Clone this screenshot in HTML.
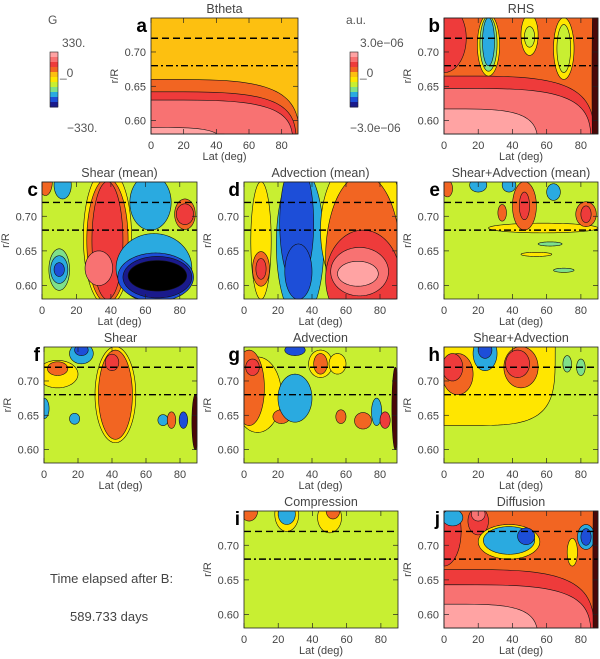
<!DOCTYPE html>
<html><head><meta charset="utf-8">
<style>
html,body{margin:0;padding:0;background:#fff;overflow:hidden;width:600px;height:659px;}
svg{display:block;}
svg text{font-family:"Liberation Sans","DejaVu Sans",sans-serif;}
</style></head>
<body>
<svg id="fig" width="600" height="659" viewBox="0 0 600 659" xmlns="http://www.w3.org/2000/svg">
  <g>
    <text x="48" y="24" font-size="12" fill="#555">G</text>
    <text x="62" y="47" font-size="12" fill="#555">330.</text>
    <text x="60" y="77" font-size="12" fill="#555">_0</text>
    <text x="67" y="132" font-size="12" fill="#555">−330.</text>
  </g>
  <g>
    <text x="346" y="24" font-size="12" fill="#555">a.u.</text>
    <text x="360" y="47" font-size="12" fill="#555">3.0e−06</text>
    <text x="360" y="77" font-size="12" fill="#555">_0</text>
    <text x="350" y="132" font-size="12" fill="#555">−3.0e−06</text>
  </g>
  <text x="50" y="583" font-size="13" fill="#444">Time elapsed after B:</text>
  <text x="70" y="621" font-size="13" fill="#444">589.733 days</text>
</svg>
<script>
const colorMap = {P5:'#ffa3a3',P4:'#f87272',P3:'#ee3b3b',P2:'#f26522',P1:'#fdc010',Y:'#ffe600',Z:'#c8ef32',G:'#7ee08a',C:'#2aaae0',B:'#1d4ed8',N:'#1a1a8c',K:'#000000',D:'#4a0808'};
const colorbarLevels = ['P5','P4','P3','P2','P1','Y','Z','G','C','B','N'];
const latTicks = [0,20,40,60,80];
const rTicks = [0.60,0.65,0.70];
const rTickLabels = ['0.60','0.65','0.70'];
const latRange = [0,90];
const rRange = [0.5805,0.7495];
const dashedR = 0.72;
const dashDotR = 0.68;
// blobs: [lat, r, halfWidthLat, halfHeightR, colour, shape]
const blobsA = [[0,0.55,91,0.11,'P2','s'],[0,0.55,89,0.092,'P3','s'],[0,0.55,87,0.08,'P4','s'],[0,0.55,45,0.04,'P5','s']];
const blobsB = [[0,0.55,88,0.115,'P3','s'],[0,0.72,13,0.05,'P3','e'],[0,0.55,86,0.097,'P4','s'],[0,0.55,55,0.067,'P5','s'],
  [26,0.71,6.5,0.045,'Y','e'],[26,0.712,5,0.04,'G','e'],[26,0.715,3.5,0.035,'C','e'],
  [50,0.725,5,0.03,'Y','e'],[50,0.722,3,0.015,'Z','e'],[70,0.705,6,0.045,'Y','e'],[70,0.705,4,0.035,'Z','e'],[89,0.66,2.5,0.2,'D','e']];
const blobsC = [[2,0.75,4,0.02,'P2','e'],[12,0.745,5,0.02,'C','e'],[10,0.623,6,0.03,'G','e'],[10,0.623,5,0.02,'C','e'],[10,0.623,3,0.01,'B','e'],
  [38,0.67,14,0.1,'Y','e'],[38,0.665,12,0.09,'P2','e'],[38,0.665,9,0.085,'P3','e'],[33,0.625,8,0.025,'P4','e'],
  [63,0.72,12,0.04,'C','e'],[65,0.625,22,0.05,'C','e'],[66,0.612,22,0.035,'B','e'],[67,0.612,20,0.03,'N','e'],[67,0.614,17,0.022,'K','e'],
  [83,0.703,6,0.022,'P2','e'],[83,0.703,5,0.015,'P3','e']];
const blobsD = [[10,0.665,6,0.085,'Y','e'],[10,0.624,5,0.025,'P2','e'],[10,0.624,3,0.015,'P3','e'],
  [33,0.66,14,0.11,'C','e'],[31,0.69,10,0.09,'B','e'],[32,0.62,8,0.04,'B','e'],
  [70,0.68,25,0.11,'Y','e'],[70,0.64,22,0.12,'P2','e'],[70,0.61,22,0.07,'P3','e'],[68,0.62,17,0.035,'P4','e'],[67,0.617,12,0.018,'P5','e']];
const blobsE = [[58,0.683,32,0.007,'Y','e'],[47,0.715,7,0.035,'P2','e'],[47,0.715,3,0.02,'P3','e'],[34,0.705,2.5,0.012,'P2','e'],
  [83,0.703,6,0.018,'P2','e'],[83,0.703,3,0.012,'P3','e'],[20,0.745,5,0.01,'C','e'],[38,0.745,4,0.01,'C','e'],[64,0.735,4,0.012,'C','e'],
  [62,0.66,7,0.003,'G','e'],[54,0.645,9,0.003,'Y','e'],[70,0.622,6,0.003,'G','e'],[2,0.74,3,0.012,'P2','e']];
const blobsF = [[8,0.71,12,0.02,'Y','e'],[8,0.718,6,0.01,'P2','e'],[0,0.66,3,0.015,'C','e'],[22,0.74,7,0.015,'C','e'],[22,0.745,4,0.008,'B','e'],
  [42,0.68,12,0.07,'Y','e'],[42,0.68,10,0.065,'P2','e'],[40,0.727,4,0.012,'P3','e'],
  [18,0.645,3,0.008,'C','e'],[70,0.643,3,0.008,'C','e'],[75,0.643,2.5,0.012,'P2','e'],[82,0.643,2.5,0.012,'B','e'],[89,0.64,2,0.04,'D','e']];
const blobsG = [[8,0.68,14,0.055,'Y','e'],[3,0.69,9,0.055,'P2','e'],[5,0.72,4,0.012,'P3','e'],[22,0.648,5,0.01,'P2','e'],
  [30,0.675,10,0.035,'C','e'],[30,0.745,6,0.008,'B','e'],[45,0.725,7,0.02,'Y','e'],[45,0.725,4,0.015,'P2','e'],[55,0.725,5,0.015,'Y','e'],
  [57,0.648,3,0.01,'P2','e'],[70,0.642,5,0.012,'P2','e'],[78,0.655,3,0.02,'C','e'],[83,0.643,3,0.012,'P3','e'],[89,0.66,2,0.06,'D','e']];
const blobsH = [[10,0.75,55,0.115,'Y','s'],[8,0.71,9,0.03,'P2','e'],[5,0.72,6,0.02,'P3','e'],[24,0.74,7,0.025,'C','e'],[24,0.745,4,0.012,'B','e'],
  [45,0.72,10,0.03,'P2','e'],[43,0.725,7,0.02,'P3','e'],[72,0.725,2.5,0.012,'G','e'],[80,0.72,2.5,0.012,'G','e']];
const blobsI = [[3,0.75,5,0.015,'P2','e'],[25,0.745,7,0.025,'Y','e'],[25,0.745,5,0.015,'C','e'],[50,0.74,7,0.022,'Y','e'],[52,0.75,4,0.012,'P2','e']];
const blobsJ = [[0,0.55,88,0.115,'P3','s'],[0,0.72,10,0.05,'P3','e'],[0,0.55,86,0.093,'P4','s'],[0,0.55,55,0.065,'P5','s'],
  [5,0.74,6,0.012,'C','e'],[20,0.735,6,0.02,'P3','e'],[20,0.745,4,0.01,'P4','e'],
  [38,0.705,18,0.025,'Y','e'],[38,0.707,15,0.02,'C','e'],[48,0.713,5,0.012,'B','e'],[75,0.69,3,0.02,'Y','e'],[83,0.712,5,0.018,'C','e'],[83,0.712,3,0.012,'B','e'],[89,0.66,2,0.2,'D','e']];
const panels = [
  {id:'a',title:'Btheta',bg:'P1',blobs:blobsA,x0:151,x1:298,y0:18,y1:134},
  {id:'b',title:'RHS',bg:'P2',blobs:blobsB,x0:444,x1:598,y0:18,y1:134},
  {id:'c',title:'Shear (mean)',bg:'Z',blobs:blobsC,x0:42,x1:197,y0:182,y1:299},
  {id:'d',title:'Advection (mean)',bg:'Z',blobs:blobsD,x0:244,x1:397,y0:182,y1:299},
  {id:'e',title:'Shear+Advection (mean)',bg:'Z',blobs:blobsE,x0:444,x1:598,y0:182,y1:299},
  {id:'f',title:'Shear',bg:'Z',blobs:blobsF,x0:44,x1:197,y0:347,y1:463},
  {id:'g',title:'Advection',bg:'Z',blobs:blobsG,x0:244,x1:397,y0:347,y1:463},
  {id:'h',title:'Shear+Advection',bg:'Z',blobs:blobsH,x0:444,x1:598,y0:347,y1:463},
  {id:'i',title:'Compression',bg:'Z',blobs:blobsI,x0:244,x1:398,y0:511,y1:628},
  {id:'j',title:'Diffusion',bg:'P2',blobs:blobsJ,x0:444,x1:598,y0:511,y1:628}
];
const NS='http://www.w3.org/2000/svg';
const svg=document.getElementById('fig');
function mk(tag,attrs,parent){const e=document.createElementNS(NS,tag);for(const k in attrs)e.setAttribute(k,attrs[k]);(parent||svg).appendChild(e);return e;}

[[50,'g'],[350,'au']].forEach(([cx,nm])=>{
  const g=mk('g',{});
  
  
  const top=52,h=55,n=colorbarLevels.length;
  colorbarLevels.forEach((c,i)=>{
    const r=mk('rect',{x:cx,y:top+i*h/n,width:8,height:h/n+0.5,fill:colorMap[c]},g);
    
    
  });
  mk('rect',{x:cx,y:top,width:8,height:h,fill:'none',stroke:'#222','stroke-width':0.6},g);
});

panels.forEach(p=>{
  const sx=v=>p.x0+(v-latRange[0])/(latRange[1]-latRange[0])*(p.x1-p.x0);
  const sy=v=>p.y1-(v-rRange[0])/(rRange[1]-rRange[0])*(p.y1-p.y0);
  const clampX=v=>Math.min(p.x1,Math.max(p.x0,v));
  const clampY=v=>Math.min(p.y1,Math.max(p.y0,v));
  const g=mk('g',{});
  
  
  const plot=mk('g',{},g);
  
  
  mk('rect',{x:p.x0,y:p.y0,width:p.x1-p.x0,height:p.y1-p.y0,fill:colorMap[p.bg]},plot);
  p.blobs.forEach(b=>{
    const [lat,r,dl,dr,col,shape]=b;
    const cx=sx(lat),cy=sy(r),rx=Math.max(sx(lat+dl)-cx,0.5),ry=Math.max(cy-sy(r+dr),0.5);
    const ex=shape==='s'?0.5:1;
    let d='';
    for(let i=0;i<=120;i++){const t=i/120*2*Math.PI,c=Math.cos(t),s=Math.sin(t);
      const px=clampX(cx+rx*Math.sign(c)*Math.pow(Math.abs(c),ex)),py=clampY(cy+ry*Math.sign(s)*Math.pow(Math.abs(s),ex));
      d+=(i?'L':'M')+px.toFixed(2)+' '+py.toFixed(2);}
    const el=mk('path',{d:d+'Z',fill:colorMap[col],stroke:'#111','stroke-width':0.6},plot);
    
    
  });
  const dl=mk('line',{x1:p.x0,x2:p.x1,y1:sy(dashedR),y2:sy(dashedR),stroke:'#000','stroke-width':1.4,'stroke-dasharray':'7,4'},g);
  
  
  const dd=mk('line',{x1:p.x0,x2:p.x1,y1:sy(dashDotR),y2:sy(dashDotR),stroke:'#000','stroke-width':1.4,'stroke-dasharray':'7,3,2,3'},g);
  
  
  mk('rect',{x:p.x0,y:p.y0,width:p.x1-p.x0,height:p.y1-p.y0,fill:'none',stroke:'#222','stroke-width':0.8},g);
  latTicks.forEach(t=>{
    const x=sx(t);
    mk('line',{x1:x,x2:x,y1:p.y1,y2:p.y1-5,stroke:'#222','stroke-width':0.7},g);
    mk('line',{x1:x,x2:x,y1:p.y0,y2:p.y0+5,stroke:'#222','stroke-width':0.7},g);
    const tx=mk('text',{x:x,y:p.y1+15,'font-size':11,fill:'#444','text-anchor':'middle'},g);
    tx.textContent=t;
    
    
  });
  rTicks.forEach((t,i)=>{
    const y=sy(t);
    mk('line',{x1:p.x0,x2:p.x0+5,y1:y,y2:y,stroke:'#222','stroke-width':0.7},g);
    mk('line',{x1:p.x1,x2:p.x1-5,y1:y,y2:y,stroke:'#222','stroke-width':0.7},g);
    const tx=mk('text',{x:p.x0-5,y:y+4,'font-size':11,fill:'#444','text-anchor':'end'},g);
    tx.textContent=rTickLabels[i];
    
    
  });
  const xt=mk('text',{x:(p.x0+p.x1)/2,y:p.y1+26,'font-size':11,fill:'#444','text-anchor':'middle'},g);
  xt.textContent='Lat (deg)';
  
  
  const yx=p.x0-33,yy=(p.y0+p.y1)/2;
  const yt=mk('text',{x:yx,y:yy,'font-size':11,fill:'#444','text-anchor':'middle',transform:'rotate(-90 '+yx+' '+yy+')'},g);
  yt.textContent='r/R';
  
  
  const tt=mk('text',{x:(p.x0+p.x1)/2,y:p.y0-5,'font-size':12.5,fill:'#444','text-anchor':'middle'},g);
  tt.textContent=p.title;
  
  
  const lt=mk('text',{x:p.x0-4,y:p.y0+14,'font-size':19,'font-weight':'bold',fill:'#000','text-anchor':'end'},g);
  lt.textContent=p.id;
  
  
});
</script>
</body></html>
